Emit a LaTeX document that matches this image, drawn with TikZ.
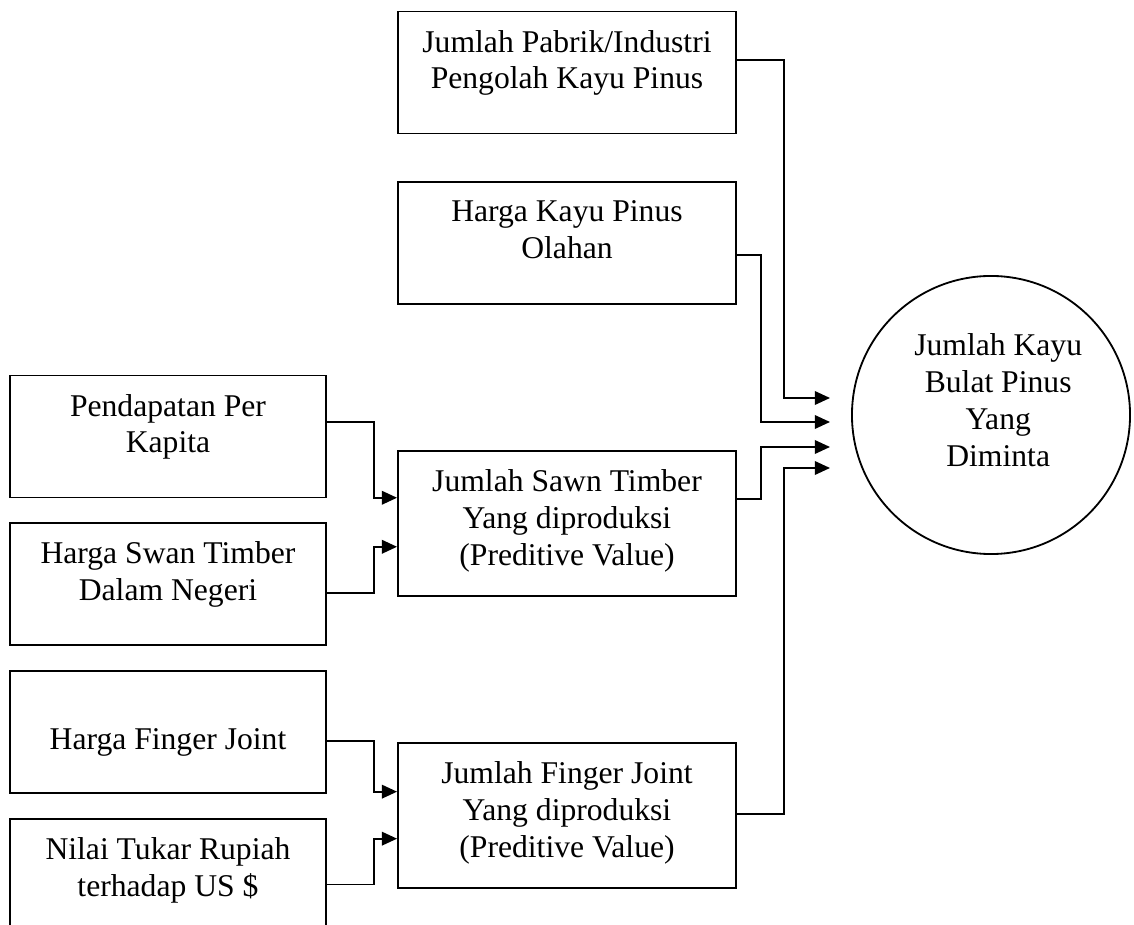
\documentclass[tikz,border=0pt]{standalone}
\usepackage{fontspec}
\setmainfont{Liberation Serif}
\usetikzlibrary{positioning,arrows.meta}

\begin{document}
\begin{tikzpicture}[x=0.025cm, y=-0.025cm,
  kotak/.style={draw, line width=1.3pt, minimum width=7.9cm, minimum height=3.05cm, inner sep=0pt},
  tulisan/.style={align=center, inner sep=0pt, font=\fontsize{22.5}{26.3}\selectfont},
  panah/.style={-{Triangle[length=0.38cm, width=0.34cm]}, line width=1.3pt}]
\useasboundingbox (0,0) rectangle (1134,925);
\clip (0,0) rectangle (1134,925);
\node[kotak, minimum width=8.45cm] (pabrik) at (567,72.5) {};
\node[kotak, minimum width=8.45cm, below=1.175cm of pabrik] (olahan) {};
\node[kotak, minimum width=8.45cm, minimum height=3.625cm, below=3.625cm of olahan] (sawn) {};
\node[kotak, minimum width=8.45cm, minimum height=3.625cm, below=3.625cm of sawn] (joint) {};
\node[kotak] (pendapatan) at (168,436.5) {};
\node[kotak, below=0.6cm of pendapatan] (swan) {};
\node[kotak, below=0.6cm of swan] (finger) {};
\node[kotak, below=0.6cm of finger] (nilai) {};
\node[draw, circle, line width=1.3pt, minimum size=6.95cm] (kayu) at (991,415) {};
\node[tulisan, below=0.48cm of pabrik.north] (pabrikT) {Jumlah Pabrik/Industri\\Pengolah Kayu Pinus};
\node[tulisan, below=0.48cm of olahan.north] (olahanT) {Harga Kayu Pinus\\Olahan};
\node[tulisan, below=0.48cm of sawn.north] (sawnT) {Jumlah Sawn Timber\\Yang diproduksi\\(Preditive Value)};
\node[tulisan, below=0.48cm of joint.north] (jointT) {Jumlah Finger Joint\\Yang diproduksi\\(Preditive Value)};
\node[tulisan, below=0.48cm of pendapatan.north] (pendapatanT) {Pendapatan Per\\Kapita};
\node[tulisan, below=0.48cm of swan.north] (swanT) {Harga Swan Timber\\Dalam Negeri};
\node[tulisan, below=1.46cm of finger.north] (fingerT) {Harga Finger Joint};
\node[tulisan, below=0.48cm of nilai.north] (nilaiT) {Nilai Tukar Rupiah\\terhadap US \$};
\node[tulisan, below=1.45cm of kayu.north, xshift=0.18cm] (kayuT) {Jumlah Kayu\\Bulat Pinus\\Yang\\Diminta};
\coordinate (in1) at (830,398);
\coordinate (in2) at (830,422);
\coordinate (in3) at (830,447);
\coordinate (in4) at (830,468);
\draw[panah] ([yshift=0.31cm]pabrik.east) -- ++(47,0) |- (in1);
\draw[panah] ([yshift=-0.29cm]olahan.east) -- ++(24,0) |- (in2);
\draw[panah] ([yshift=0.625cm]sawn.east) -- ++(24,0) |- (in3);
\draw[panah] ([yshift=0.05cm]joint.east) -- ++(47,0) |- (in4);
\draw[panah] ([yshift=0.36cm]pendapatan.east) -- ++(47,0) |- ([yshift=0.65cm]sawn.west);
\draw[panah] ([yshift=-0.21cm]swan.east) -- ++(47,0) |- ([yshift=-0.575cm]sawn.west);
\draw[panah] ([yshift=-0.21cm]finger.east) -- ++(47,0) |- ([yshift=0.6cm]joint.west);
\draw[panah] ([yshift=-0.11cm]nilai.east) -- ++(47,0) |- ([yshift=-0.575cm]joint.west);
\end{tikzpicture}
\end{document}
